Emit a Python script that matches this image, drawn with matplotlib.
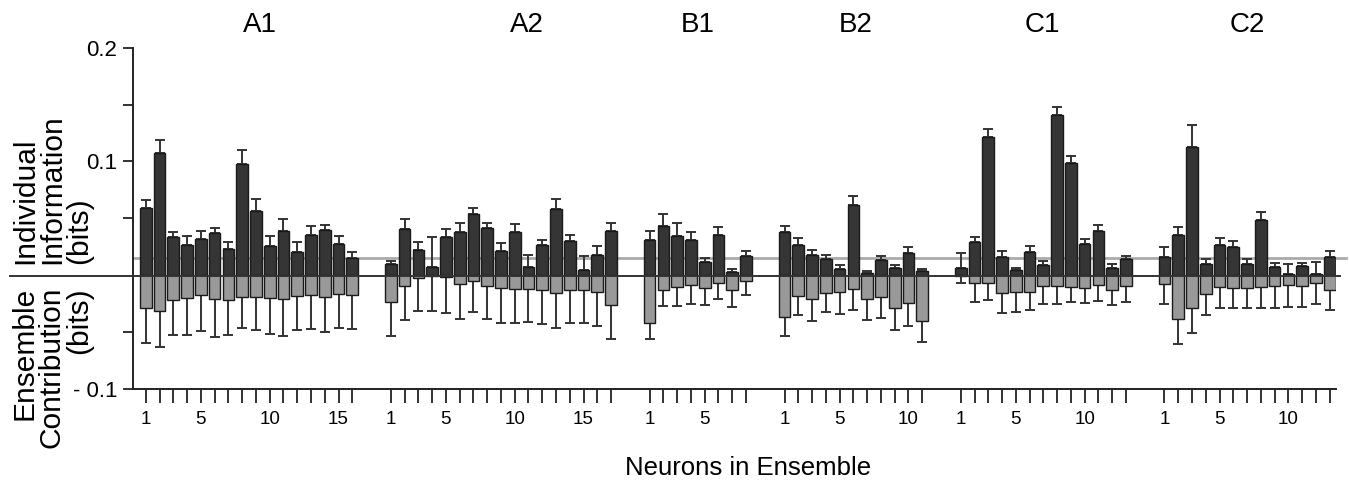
import matplotlib
matplotlib.use("Agg")
import matplotlib.pyplot as plt
import numpy as np
from matplotlib.lines import Line2D

plt.rcParams['font.family'] = ['Liberation Sans', 'DejaVu Sans']

# ---------------- data ----------------
groups = ["A1", "A2", "B1", "B2", "C1", "C2"]

a1_info = [0.0591, 0.1073, 0.0333, 0.0266, 0.0319, 0.0371, 0.0234, 0.0982, 0.0564, 0.0254, 0.0389, 0.0202, 0.0354, 0.0395, 0.0272, 0.0152]
a1_info_err = [0.0067, 0.0117, 0.0044, 0.0082, 0.0070, 0.0044, 0.0056, 0.0117, 0.0105, 0.0091, 0.0102, 0.0091, 0.0082, 0.0044, 0.0073, 0.0053]
a1_ens = [-0.0292, -0.0313, -0.0219, -0.0202, -0.0175, -0.0208, -0.0216, -0.0187, -0.0190, -0.0202, -0.0213, -0.0181, -0.0173, -0.0193, -0.0164, -0.0173]
a1_ens_err = [0.0304, 0.0319, 0.0304, 0.0327, 0.0313, 0.0336, 0.0313, 0.0281, 0.0289, 0.0313, 0.0325, 0.0301, 0.0298, 0.0304, 0.0301, 0.0298]

a2_info = [0.0099, 0.0406, 0.0219, 0.0073, 0.0336, 0.0380, 0.0538, 0.0418, 0.0213, 0.0383, 0.0073, 0.0269, 0.0582, 0.0304, 0.0050, 0.0178, 0.0392]
a2_info_err = [0.0023, 0.0088, 0.0073, 0.0260, 0.0070, 0.0076, 0.0053, 0.0038, 0.0067, 0.0070, 0.0105, 0.0044, 0.0091, 0.0047, 0.0120, 0.0076, 0.0064]
a2_ens = [-0.0231, -0.0091, -0.0026, -0.0009, -0.0012, -0.0076, -0.0053, -0.0096, -0.0114, -0.0117, -0.0120, -0.0132, -0.0158, -0.0126, -0.0129, -0.0146, -0.0260]
a2_ens_err = [0.0304, 0.0301, 0.0292, 0.0307, 0.0322, 0.0313, 0.0272, 0.0292, 0.0304, 0.0301, 0.0292, 0.0301, 0.0307, 0.0292, 0.0292, 0.0298, 0.0301]

b1_info = [0.0310, 0.0430, 0.0345, 0.0313, 0.0120, 0.0354, 0.0029, 0.0170]
b1_info_err = [0.0079, 0.0111, 0.0111, 0.0067, 0.0035, 0.0067, 0.0023, 0.0047]
b1_ens = [-0.0418, -0.0129, -0.0105, -0.0088, -0.0108, -0.0070, -0.0129, -0.0047]
b1_ens_err = [0.0143, 0.0143, 0.0164, 0.0161, 0.0155, 0.0137, 0.0149, 0.0129]

b2_info = [0.0377, 0.0266, 0.0178, 0.0143, 0.0058, 0.0620, 0.0020, 0.0135, 0.0064, 0.0193, 0.0038]
b2_info_err = [0.0053, 0.0061, 0.0041, 0.0035, 0.0029, 0.0079, 0.0018, 0.0035, 0.0023, 0.0053, 0.0018]
b2_ens = [-0.0365, -0.0181, -0.0211, -0.0155, -0.0149, -0.0120, -0.0211, -0.0193, -0.0287, -0.0243, -0.0398]
b2_ens_err = [0.0173, 0.0170, 0.0187, 0.0167, 0.0190, 0.0187, 0.0181, 0.0184, 0.0190, 0.0202, 0.0187]

c1_info = [0.0064, 0.0289, 0.1213, 0.0161, 0.0047, 0.0205, 0.0091, 0.1409, 0.0985, 0.0275, 0.0389, 0.0067, 0.0140]
c1_info_err = [0.0135, 0.0044, 0.0070, 0.0050, 0.0018, 0.0056, 0.0035, 0.0067, 0.0064, 0.0047, 0.0053, 0.0029, 0.0026]
c1_ens = [-0.0009, -0.0067, -0.0067, -0.0155, -0.0146, -0.0143, -0.0096, -0.0094, -0.0102, -0.0111, -0.0088, -0.0126, -0.0099]
c1_ens_err = [0.0056, 0.0167, 0.0152, 0.0178, 0.0175, 0.0164, 0.0155, 0.0155, 0.0132, 0.0135, 0.0137, 0.0135, 0.0132]

c2_info = [0.0161, 0.0354, 0.1126, 0.0099, 0.0266, 0.0251, 0.0102, 0.0485, 0.0070, 0.0012, 0.0082, 0.0012, 0.0158]
c2_info_err = [0.0085, 0.0070, 0.0193, 0.0044, 0.0061, 0.0053, 0.0041, 0.0067, 0.0035, 0.0088, 0.0023, 0.0102, 0.0053]
c2_ens = [-0.0076, -0.0389, -0.0284, -0.0161, -0.0102, -0.0108, -0.0108, -0.0105, -0.0096, -0.0088, -0.0099, -0.0070, -0.0129]
c2_ens_err = [0.0181, 0.0219, 0.0225, 0.0190, 0.0187, 0.0184, 0.0184, 0.0187, 0.0190, 0.0187, 0.0184, 0.0187, 0.0178]

chance_level = 0.015
labelled_neurons = [1, 5, 10, 15]

info_sets = [a1_info, a2_info, b1_info, b2_info, c1_info, c2_info]
info_err_sets = [a1_info_err, a2_info_err, b1_info_err, b2_info_err, c1_info_err, c2_info_err]
ens_sets = [a1_ens, a2_ens, b1_ens, b2_ens, c1_ens, c2_ens]
ens_err_sets = [a1_ens_err, a2_ens_err, b1_ens_err, b2_ens_err, c1_ens_err, c2_ens_err]

# ---------------- figure ----------------
W, H = 1349, 492
fig = plt.figure(figsize=(W / 100, H / 100), dpi=100)
ax = fig.add_axes([133 / W, 1 - 389 / H, (1336 - 133) / W, (389 - 47.7) / H])

dark = "#353535"
light = "#999999"
edge = "#1a1a1a"
errc = "#333333"
gap = 2.8
width = 0.85
title_shift = [0.8, 1.9, 0.0, 0.2, -0.1, 0.0]

start = 0.0
all_ticks, all_labels = [], []
for gi, name in enumerate(groups):
    info = np.array(info_sets[gi])
    n = len(info)
    x = start + np.arange(n)
    ens = np.array(ens_sets[gi])
    ie = np.array(info_err_sets[gi])
    ee = np.array(ens_err_sets[gi])
    ax.errorbar(x, ens, yerr=[ee, np.zeros(n)], fmt="none", ecolor=errc,
                elinewidth=1.4, capsize=3.8, capthick=1.4, zorder=2)
    ax.errorbar(x, info, yerr=[np.zeros(n), ie], fmt="none", ecolor=errc,
                elinewidth=1.4, capsize=3.8, capthick=1.4, zorder=2)
    ax.bar(x, ens, width=width, color=light, edgecolor=edge, linewidth=1.0, zorder=3)
    ax.bar(x, info, width=width, color=dark, edgecolor=edge, linewidth=1.0, zorder=4)
    for i in range(n):
        all_ticks.append(x[i])
        all_labels.append(str(i + 1) if (i + 1) in labelled_neurons else "")
    xc = x.mean() + title_shift[gi]
    ax.annotate(name, xy=(xc, 0), xycoords=("data", "figure fraction"),
                xytext=(xc, 1 - 25 / H), textcoords=("data", "figure fraction"),
                ha="center", va="center", fontsize=20, annotation_clip=False)
    start = x[-1] + gap

last = start - gap
ax.set_xlim(-0.93, last + 0.46)
ax.set_ylim(-0.1, 0.2)

# reference lines
ax.axhline(chance_level, color="#aaaaaa", lw=2.0, zorder=1,
           xmin=0, xmax=1.008, clip_on=False)
fig.add_artist(Line2D([10 / W, 1340 / W], [1 - 275.5 / H, 1 - 275.5 / H],
                      color="#333333", lw=1.4, zorder=5))

ax.set_xticks(all_ticks)
ax.set_xticklabels(all_labels, fontsize=13.5)
ax.tick_params(axis="x", length=10, width=1.3, direction="out", pad=6, color="#222222")
ax.set_yticks([-0.1, -0.05, 0.05, 0.1, 0.15, 0.2])
ax.set_yticklabels(["- 0.1", "", "", "0.1", "", "0.2"], fontsize=16)
ax.tick_params(axis="y", length=7.5, width=1.3, direction="out", pad=4, color="#222222")

for s in ["top", "right"]:
    ax.spines[s].set_visible(False)
for s in ["left", "bottom"]:
    ax.spines[s].set_linewidth(1.4)
    ax.spines[s].set_color("#222222")

# y labels
ylab_fs = 21.5
for xb, txt in [(33, "Individual"), (60, "Information"), (87, "(bits)")]:
    fig.text(xb / W, 1 - 264 / H, txt, rotation=90, rotation_mode="anchor",
             ha="left", va="baseline", fontsize=ylab_fs)
for xb, txt in [(33, "Ensemble"), (60, "Contribution"), (87, "(bits)")]:
    fig.text(xb / W, 1 - 287 / H, txt, rotation=90, rotation_mode="anchor",
             ha="right", va="baseline", fontsize=ylab_fs)

fig.text(748 / W, 1 - 468 / H, "Neurons in Ensemble", ha="center", va="center", fontsize=18.5)

fig.savefig("out.png", dpi=100)
